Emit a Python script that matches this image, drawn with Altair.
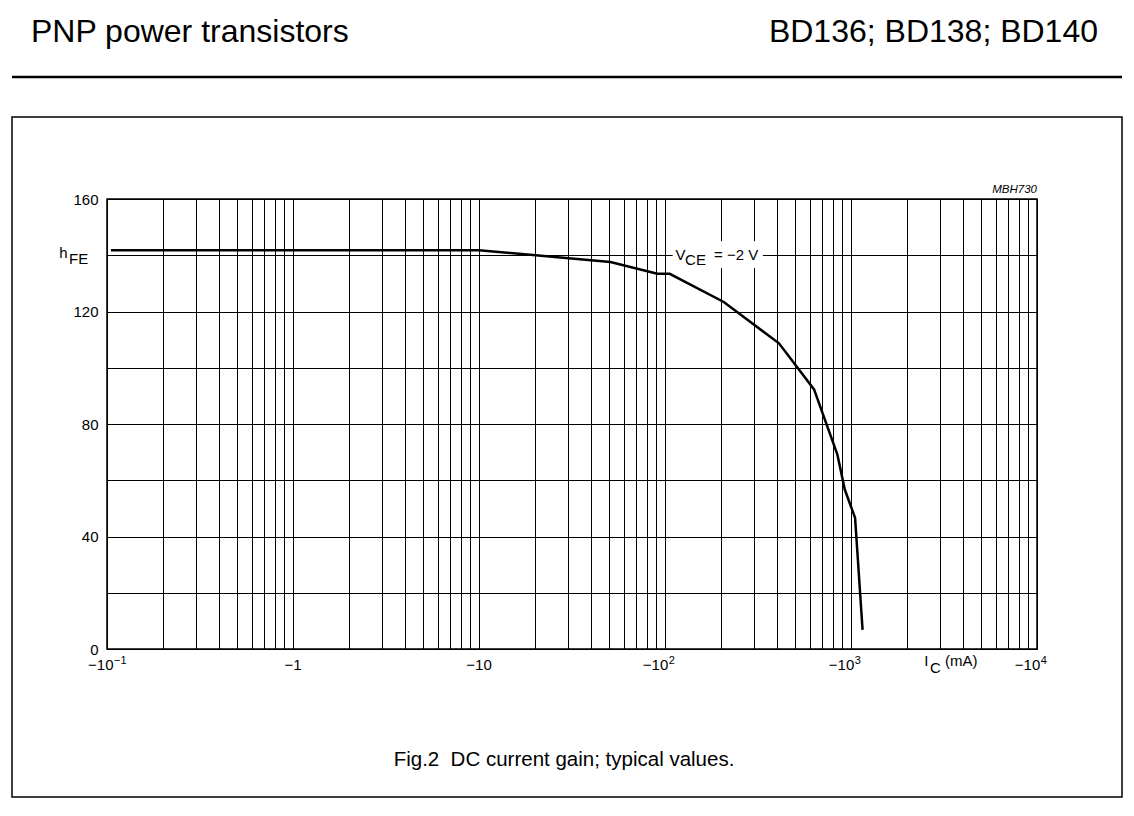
import altair as alt
import pandas as pd

# ---- data ----
ic_ma = [0.105, 10, 27.4, 50.9, 90.9, 106, 207, 410, 633, 845, 926, 1052, 1154]
hfe = [141.8, 141.8, 139.2, 137.6, 133.4, 133.4, 123.4, 108.7, 92.3, 69.1, 56.7, 46.6, 6.8]

x_label_values = [0.1, 1, 10, 100, 1000, 10000]
x_label_main = ["−10", "−1", "−10", "−10", "−10", "−10"]
x_label_sup = ["−1", "", "", "2", "3", "4"]
y_grid_values = [0, 20, 40, 60, 80, 100, 120, 140, 160]
y_label_values = [0, 40, 80, 120, 160]

title_left = "PNP power transistors"
title_right = "BD136; BD138; BD140"
caption = "Fig.2\u00a0\u00a0DC current gain; typical values."
drawing_code = "MBH730"

label_ic = [114]
label_hfe = [138.3]
box_ic = [110, 336]
box_hfe = [135.5, 145.0]

FONT = "Liberation Sans"

# x grid values: 1..9 per decade
x_grid_values = []
for e in range(-1, 4):
    for k in range(1, 10):
        x_grid_values.append(round(k * 10 ** e, 6))
x_grid_values.append(10000)

y_expr = "indexof(" + str(y_label_values) + ", datum.value) >= 0 ? datum.label : ''"

curve_df = pd.DataFrame({"ic": ic_ma, "hfe": hfe})
one = pd.DataFrame({"a": [0]})

xscale = alt.Scale(type="log", domain=[0.1, 10000], nice=False)
yscale = alt.Scale(domain=[0, 160], nice=False, zero=True)

xaxis = alt.Axis(values=x_grid_values, labels=False, title=None)
yaxis = alt.Axis(values=y_grid_values, labelExpr=y_expr, labelPadding=9, title=None)

curve = alt.Chart(curve_df).mark_line(color="black", strokeWidth=2.5).encode(
    x=alt.X("ic:Q", scale=xscale, axis=xaxis),
    y=alt.Y("hfe:Q", scale=yscale, axis=yaxis),
)

box_df = pd.DataFrame({"x1": [box_ic[0]], "x2": [box_ic[1]], "y1": [box_hfe[0]], "y2": [box_hfe[1]]})
box = alt.Chart(box_df).mark_rect(color="white", opacity=1).encode(
    x=alt.X("x1:Q", scale=xscale), x2="x2:Q",
    y=alt.Y("y1:Q", scale=yscale), y2="y2:Q",
)

lab_df = pd.DataFrame({"ic": label_ic, "hfe": label_hfe})
def lab(text, dx, dy):
    return alt.Chart(lab_df).mark_text(text=text, align="left", baseline="alphabetic",
                                       fontSize=15, font=FONT, color="black", dx=dx, dy=dy).encode(
        x=alt.X("ic:Q", scale=xscale), y=alt.Y("hfe:Q", scale=yscale))

vce = [lab("V", 0, 0), lab("CE", 9.5, 5), lab("= −2 V", 38.5, 0)]

# x tick labels with raised exponents
tick_layers = []
for v, main, sup in zip(x_label_values, x_label_main, x_label_sup):
    d = pd.DataFrame({"v": [v]})
    if sup:
        half = 0.6 * 11 * len(sup) / 2 if sup != "−1" else 6.5
        tick_layers.append(alt.Chart(d).mark_text(
            text=main, align="right", baseline="alphabetic", fontSize=15, font=FONT,
            color="black", dx=half).encode(x=alt.X("v:Q", scale=xscale), y=alt.value(471)))
        tick_layers.append(alt.Chart(d).mark_text(
            text=sup, align="left", baseline="alphabetic", fontSize=11, font=FONT,
            color="black", dx=half + 0.5).encode(x=alt.X("v:Q", scale=xscale), y=alt.value(465)))
    else:
        tick_layers.append(alt.Chart(d).mark_text(
            text=main, align="center", baseline="alphabetic", fontSize=15, font=FONT,
            color="black").encode(x=alt.X("v:Q", scale=xscale), y=alt.value(471)))

def ptext(text, x, y, size=15, align="left", style="normal"):
    return alt.Chart(one).mark_text(text=text, align=align, baseline="alphabetic",
                                    fontSize=size, font=FONT, color="black",
                                    fontStyle=style).encode(
        x=alt.value(x), y=alt.value(y))

annotations = [
    ptext("h", -47.7, 59), ptext("FE", -38, 65),
    ptext("I", 817.3, 467), ptext("C", 823, 474), ptext("(mA)", 838, 467),
    ptext(title_left, -76, -157, size=32),
    ptext(title_right, 991, -157, size=32, align="right"),
    ptext(caption, 457, 567, size=20.5, align="center"),
    ptext(drawing_code, 930, -6.5, size=11.5, align="right", style="italic"),
]

rule = alt.Chart(one).mark_rule(color="black", strokeWidth=2.5).encode(
    x=alt.value(-95), x2=alt.value(1015), y=alt.value(-122))
frame = alt.Chart(one).mark_rect(fillOpacity=0, stroke="black", strokeWidth=1.5).encode(
    x=alt.value(-95), x2=alt.value(1015), y=alt.value(-82), y2=alt.value(598))

chart = alt.layer(frame, rule, box, curve, *vce, *tick_layers, *annotations).properties(
    width=930, height=450,
    background="white",
    autosize=alt.AutoSizeParams(type="none"),
    padding={"left": 99, "top": 191, "right": 89, "bottom": 159},
).configure_view(stroke="black", strokeWidth=1.5).configure_axis(
    grid=True, gridColor="black", gridWidth=1, gridOpacity=1,
    domain=False, ticks=False, labelColor="black", labelFont=FONT, labelFontSize=15,
)

chart.save("out.html", embed_options={"renderer": "svg", "actions": False})
